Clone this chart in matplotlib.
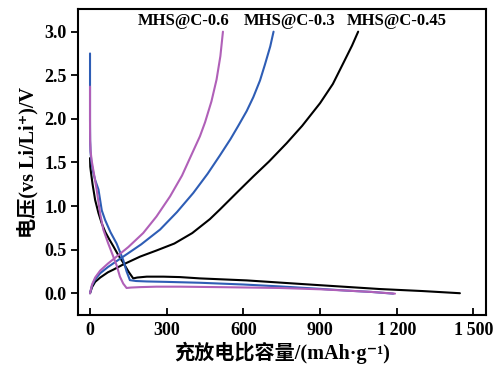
import matplotlib
matplotlib.use("Agg")
import matplotlib.pyplot as plt

# ---- data ----
series_names = ["MHS@C-0.45", "MHS@C-0.3", "MHS@C-0.6"]
colors = ["#000000", "#2E5DB5", "#B060B8"]

# charge curves (capacity mAh/g, voltage V)
charge_045_x = [0, 8, 20, 40, 70, 91, 130, 196, 260, 330, 400, 469, 508, 580, 639, 700, 769, 830, 900, 950, 991, 1025, 1049]
charge_045_y = [0, 0.07, 0.13, 0.18, 0.24, 0.27, 0.33, 0.42, 0.49, 0.57, 0.69, 0.85, 0.96, 1.17, 1.34, 1.51, 1.72, 1.92, 2.18, 2.40, 2.64, 2.84, 3.0]
charge_03_x = [0, 8, 20, 40, 70, 130, 200, 274, 340, 404, 460, 508, 550, 580, 613, 639, 665, 684, 705, 718]
charge_03_y = [0, 0.09, 0.16, 0.23, 0.30, 0.42, 0.56, 0.73, 0.93, 1.15, 1.37, 1.58, 1.77, 1.92, 2.09, 2.25, 2.44, 2.62, 2.83, 3.0]
charge_06_x = [0, 8, 20, 40, 70, 104, 150, 208, 260, 313, 360, 391, 430, 450, 475, 495, 510, 520]
charge_06_y = [0, 0.10, 0.18, 0.26, 0.34, 0.42, 0.53, 0.69, 0.88, 1.11, 1.35, 1.55, 1.80, 1.96, 2.20, 2.45, 2.72, 3.0]

# discharge curves
dis_045_x = [0, 1, 4, 10, 20, 33, 46, 60, 75, 91, 110, 130, 150, 169, 185, 222, 287, 352, 430, 613, 873, 1134, 1300, 1447]
dis_045_y = [1.55, 1.45, 1.38, 1.25, 1.07, 0.92, 0.80, 0.70, 0.62, 0.54, 0.44, 0.35, 0.25, 0.17, 0.18, 0.19, 0.19, 0.185, 0.17, 0.147, 0.097, 0.048, 0.025, 0.0]
dis_03_x = [0, 0, 0.5, 2, 6, 13, 20, 33, 46, 59, 80, 104, 130, 143, 156, 180, 222, 300, 430, 600, 743, 900, 1004, 1100, 1186]
dis_03_y = [2.75, 2.0, 1.75, 1.62, 1.49, 1.38, 1.30, 1.19, 0.95, 0.84, 0.70, 0.57, 0.38, 0.25, 0.15, 0.14, 0.135, 0.13, 0.12, 0.10, 0.078, 0.05, 0.03, 0.015, -0.005]
dis_06_x = [0, 0, 0.5, 2, 6, 13, 26, 39, 52, 70, 91, 104, 117, 130, 143, 160, 196, 260, 352, 500, 743, 900, 1004, 1100, 1193]
dis_06_y = [2.37, 1.9, 1.75, 1.64, 1.53, 1.41, 1.19, 0.92, 0.73, 0.58, 0.42, 0.32, 0.19, 0.11, 0.06, 0.065, 0.07, 0.075, 0.075, 0.07, 0.06, 0.045, 0.03, 0.015, -0.005]

x_ticks = [0, 300, 600, 900, 1200, 1500]
x_tick_labels = ["0", "300", "600", "900", "1\u2009200", "1\u2009500"]
y_ticks = [0.0, 0.5, 1.0, 1.5, 2.0, 2.5, 3.0]
label_x = [1200, 782, 368]
label_y = [3.12, 3.12, 3.12]

xlabel = "充放电比容量/(mAh·g⁻¹)"
ylabel = "电压(vs Li/Li⁺)/V"

fam = ["Liberation Serif", "Noto Sans CJK SC", "DejaVu Sans"]
plt.rcParams["font.family"] = fam
plt.rcParams["font.weight"] = "bold"

fig = plt.figure(figsize=(5.01, 3.70), dpi=100)
ax = fig.add_axes([0.1557, 0.1486, 0.970 - 0.1557, 0.9757 - 0.1486])

charges = [(charge_045_x, charge_045_y), (charge_03_x, charge_03_y), (charge_06_x, charge_06_y)]
discharges = [(dis_045_x, dis_045_y), (dis_03_x, dis_03_y), (dis_06_x, dis_06_y)]
for (cx, cy), (dx, dy), c in zip(charges, discharges, colors):
    ax.plot(dx, dy, color=c, lw=1.5, solid_capstyle="round", solid_joinstyle="round")
    ax.plot(cx, cy, color=c, lw=1.5, solid_capstyle="round", solid_joinstyle="round")

for name, lx, ly in zip(series_names, label_x, label_y):
    ax.text(lx, ly, name, ha="center", va="center", fontsize=12, fontweight="bold")

ax.set_xlim(-47, 1549)
ax.set_ylim(-0.25, 3.26)
ax.set_xticks(x_ticks)
ax.set_xticklabels(x_tick_labels)
ax.set_yticks(y_ticks)
ax.set_yticklabels([f"{v:.1f}" for v in y_ticks])
ax.tick_params(axis="x", direction="in", length=5, width=1.3, labelsize=13, pad=5)
ax.tick_params(axis="y", direction="out", length=5, width=1.3, labelsize=13, pad=3)
for lab in ax.get_xticklabels() + ax.get_yticklabels():
    lab.set_fontweight("bold")
for s in ax.spines.values():
    s.set_linewidth(1.5)

ax.set_xlabel(xlabel, fontsize=14.5, fontweight="bold", labelpad=2)
ax.set_ylabel(ylabel, fontsize=14.5, fontweight="bold", labelpad=4)

fig.savefig("out.png", dpi=100)
